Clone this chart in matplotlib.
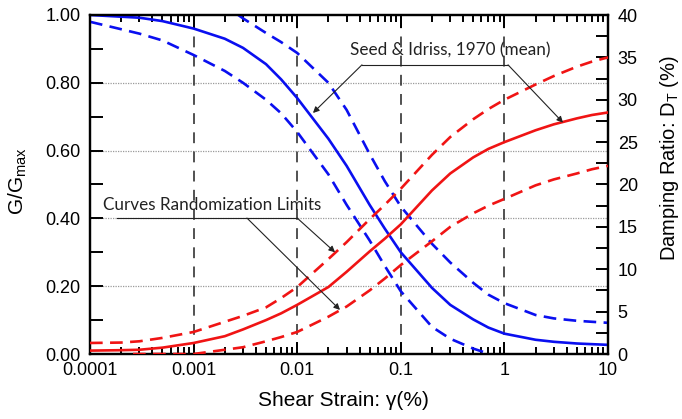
import matplotlib
matplotlib.use("Agg")
import matplotlib.pyplot as plt
from matplotlib.ticker import FixedLocator, MultipleLocator, FuncFormatter, NullFormatter

plt.rcParams['font.family'] = ['Liberation Sans', 'DejaVu Sans']
plt.rcParams['mathtext.default'] = 'regular'

# Shear strain (%) sample points
strain = [0.0001, 0.0002, 0.0003, 0.0005, 0.001, 0.002, 0.003, 0.005, 0.007,
          0.01, 0.02, 0.03, 0.05, 0.07, 0.1, 0.2, 0.3, 0.5, 0.7,
          1, 2, 3, 5, 7, 10]

# Modulus reduction G/Gmax: Seed & Idriss (1970) mean and randomization limits
g_mean = [1.000, 0.995, 0.992, 0.982, 0.960, 0.930, 0.903, 0.855, 0.810,
          0.755, 0.635, 0.555, 0.440, 0.370, 0.300, 0.195, 0.145, 0.102, 0.078,
          0.060, 0.042, 0.036, 0.031, 0.029, 0.027]
g_upper_strain = [0.0027, 0.003, 0.005, 0.007, 0.01, 0.02, 0.03, 0.05, 0.07,
                  0.1, 0.2, 0.3, 0.5, 0.7, 1, 2, 3, 5, 7, 10]
g_upper = [1.000, 0.990, 0.947, 0.920, 0.888, 0.800, 0.720, 0.590, 0.510,
           0.435, 0.325, 0.270, 0.210, 0.175, 0.150, 0.115, 0.105, 0.098,
           0.095, 0.092]
g_lower_strain = [0.0001, 0.0002, 0.0003, 0.0005, 0.001, 0.002, 0.003, 0.005,
                  0.007, 0.01, 0.02, 0.03, 0.05, 0.07, 0.1, 0.2, 0.3, 0.5, 0.72]
g_lower = [0.980, 0.958, 0.945, 0.925, 0.882, 0.835, 0.800, 0.750,
           0.710, 0.655, 0.530, 0.440, 0.335, 0.260, 0.185, 0.080, 0.045,
           0.016, 0.0]

# Damping ratio (%): mean and randomization limits
d_mean = [0.40, 0.45, 0.50, 0.75, 1.3, 2.1, 2.9, 4.0, 4.8,
          5.8, 7.9, 9.7, 12.1, 13.6, 15.3, 19.3, 21.3, 23.2, 24.2,
          25.0, 26.4, 27.1, 27.8, 28.2, 28.5]
d_upper = [1.30, 1.35, 1.5, 1.9, 2.6, 3.8, 4.5, 5.5, 6.6,
           7.9, 11.2, 13.2, 15.9, 17.6, 19.5, 23.5, 25.6, 27.7, 28.9,
           30.0, 31.8, 32.8, 33.9, 34.5, 35.0]
d_lower_strain = [0.00026, 0.001, 0.002, 0.003, 0.005, 0.007, 0.01, 0.02,
                  0.03, 0.05, 0.07, 0.1, 0.2, 0.3, 0.5, 0.7, 1, 2, 3, 5, 7, 10]
d_lower = [0.0, 0.0, 0.5, 0.8, 1.5, 2.0, 2.6, 4.4,
           5.6, 7.5, 8.9, 10.5, 13.3, 15.0, 16.6, 17.5, 18.3, 19.9, 20.6,
           21.3, 21.8, 22.2]

x_ticks = [0.0001, 0.001, 0.01, 0.1, 1, 10]

BLUE = '#0a0ff0'
RED = '#f01414'
LW = 1.9
DASH = (0, (4.8, 2.8))

fig = plt.figure(figsize=(6.82, 4.19), dpi=100)
ax = fig.add_axes([90 / 682, 65 / 419, 518 / 682, 339 / 419])
ax2 = ax.twinx()

ax.set_xscale('log')
ax.set_xlim(0.0001, 10)
ax.set_ylim(0, 1)
ax2.set_ylim(0, 40)

# reference grid
for yv in [0.2, 0.4, 0.6, 0.8]:
    ax.axhline(yv, color='#9a9a9a', lw=0.9, ls=(0, (1, 1)), zorder=1)
for xv in x_ticks[1:-1]:
    ax.axvline(xv, color='#333333', lw=1.2, ls=(0, (6.5, 5)), zorder=1)

# G/Gmax curves
ax.plot(strain, g_mean, color=BLUE, lw=LW, zorder=3)
ax.plot(g_upper_strain, g_upper, color=BLUE, lw=LW, ls=DASH, zorder=3)
ax.plot(g_lower_strain, g_lower, color=BLUE, lw=LW, ls=DASH, zorder=3)

# damping curves
ax2.plot(strain, d_mean, color=RED, lw=LW, zorder=3)
ax2.plot(strain, d_upper, color=RED, lw=LW, ls=DASH, zorder=3)
ax2.plot(d_lower_strain, d_lower, color=RED, lw=LW, ls=DASH, zorder=3)

# axes styling
for a in (ax, ax2):
    for s in a.spines.values():
        s.set_linewidth(1.6)
        s.set_color('black')

ax.xaxis.set_major_locator(FixedLocator(x_ticks))
ax.xaxis.set_major_formatter(FuncFormatter(lambda v, p: '{:g}'.format(v)))
ax.xaxis.set_minor_formatter(NullFormatter())
ax.yaxis.set_major_locator(MultipleLocator(0.2))
ax.yaxis.set_minor_locator(MultipleLocator(0.1))
ax.yaxis.set_major_formatter(FuncFormatter(lambda v, p: '%.2f' % v))
ax2.yaxis.set_major_locator(MultipleLocator(5))
ax2.yaxis.set_minor_locator(MultipleLocator(2.5))

ax.tick_params(axis='x', which='both', direction='in', top=True, bottom=True,
               labelsize=13, pad=6, width=1.4)
ax.tick_params(axis='x', which='major', length=9)
ax.tick_params(axis='x', which='minor', length=5)
ax.tick_params(axis='y', which='both', direction='in', length=9, width=1.4,
               labelsize=13, pad=7, right=False)
ax2.tick_params(axis='y', which='both', direction='in', length=9, width=1.4,
                labelsize=13, pad=7)

ax.set_xlabel('Shear Strain: γ(%)', fontsize=15)
ax.xaxis.set_label_coords(0.49, -0.108)
ax.set_ylabel('$G/G_{max}$', fontsize=15)
ax.yaxis.label.set(va='center', ha='center')
ax.yaxis.set_label_coords(-0.139, 0.51)
ax2.set_ylabel('Damping Ratio: $D_T$ (%)', fontsize=14.5, rotation=90)
ax2.yaxis.label.set(va='center', ha='center')
ax2.yaxis.set_label_coords(1.118, 0.578)

# annotations
ann_font = dict(family=['Lato', 'DejaVu Sans'], fontsize=12.3, color='#222222')
arrow = dict(arrowstyle='-|>', color='#222222', lw=0.8, mutation_scale=9,
             shrinkA=0, shrinkB=0)
line_kw = dict(color='#222222', lw=0.8, transform=ax.transAxes, zorder=4,
               clip_on=False)

ax.text(0.695, 0.897, 'Seed & Idriss, 1970 (mean)', ha='center', va='center',
        transform=ax.transAxes, **ann_font)
ax.plot([0.525, 0.807], [0.853, 0.853], **line_kw)
ax.annotate('', xy=(0.0142, 0.711), xycoords='data',
            xytext=(0.525, 0.853), textcoords='axes fraction',
            arrowprops=arrow, zorder=4)
ax2.annotate('', xy=(3.68, 27.3), xycoords='data',
             xytext=(0.807, 0.853), textcoords=ax.transAxes,
             arrowprops=arrow, zorder=4)

ax.text(0.236, 0.44, 'Curves Randomization Limits', ha='center', va='center',
        transform=ax.transAxes, **ann_font)
ax.plot([0.052, 0.40], [0.401, 0.401], **line_kw)
ax2.annotate('', xy=(0.0232, 12.0), xycoords='data',
             xytext=(0.40, 0.401), textcoords=ax.transAxes,
             arrowprops=arrow, zorder=4)
ax2.annotate('', xy=(0.0259, 5.2), xycoords='data',
             xytext=(0.303, 0.401), textcoords=ax.transAxes,
             arrowprops=arrow, zorder=4)

fig.savefig('out.png', dpi=100)
